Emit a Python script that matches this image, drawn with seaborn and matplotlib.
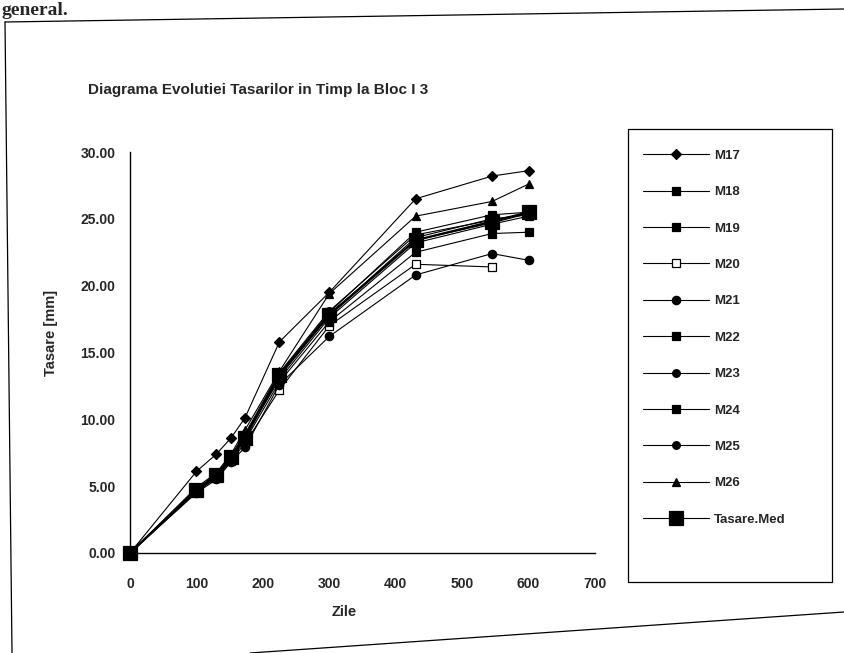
import numpy as np
import pandas as pd
import matplotlib
matplotlib.use("Agg")
import matplotlib.pyplot as plt
from matplotlib.lines import Line2D
import seaborn as sns

# Days of measurement
zile = [0, 100, 130, 152, 173, 225, 300, 430, 545, 600]

# Settlement [mm] per benchmark
m17 = [0, 6.1, 7.4, 8.6, 10.1, 15.8, 19.5, 26.5, 28.2, 28.6]
m18 = [0, 4.7, 5.9, 7.2, 8.8, 13.4, 18.0, 24.0, 25.3, 25.5]
m19 = [0, 4.6, 5.7, 7.0, 8.6, 13.2, 17.8, 23.6, 25.0, 25.3]
m20 = [0, 4.6, 5.6, 6.9, 8.2, 12.2, 17.0, 21.6, 21.4]
m21 = [0, 4.5, 5.5, 6.8, 7.9, 12.6, 16.2, 20.8, 22.4, 21.9]
m22 = [0, 4.7, 5.8, 7.1, 8.7, 13.0, 17.6, 23.2, 24.6, 25.2]
m23 = [0, 4.8, 5.9, 7.3, 8.9, 13.5, 18.1, 23.8, 24.9, 25.4]
m24 = [0, 4.6, 5.7, 7.0, 8.4, 12.8, 17.3, 22.5, 23.9, 24.0]
m25 = [0, 4.7, 5.8, 7.2, 8.6, 13.3, 17.9, 23.4, 24.7, 25.4]
m26 = [0, 4.9, 6.0, 7.4, 9.2, 13.6, 19.4, 25.2, 26.3, 27.6]
tasare_med = [0, 4.7, 5.8, 7.2, 8.6, 13.3, 17.8, 23.4, 24.8, 25.5]

serii = ["M17", "M18", "M19", "M20", "M21", "M22", "M23", "M24", "M25", "M26", "Tasare.Med"]
valori = [m17, m18, m19, m20, m21, m22, m23, m24, m25, m26, tasare_med]

x_ticks = [0, 100, 200, 300, 400, 500, 600, 700]
y_ticks = [0, 5, 10, 15, 20, 25, 30]

rows = []
for nume, vals in zip(serii, valori):
    for z, v in zip(zile, vals):
        rows.append({"Zile": z, "Tasare": v, "Serie": nume})
df = pd.DataFrame(rows)

sns.set_style("white")
plt.rcParams["font.family"] = ["Liberation Sans", "DejaVu Sans"]
plt.rcParams["font.weight"] = "bold"

fig = plt.figure(figsize=(8.44, 6.53), dpi=100)
W, H = 844, 653
ax = fig.add_axes([130 / W, 1 - 553 / H, 465 / W, 401 / H])

stiluri = {
    "M17": dict(marker="D", ms=5, mfc="black"),
    "M18": dict(marker="s", ms=5.5, mfc="black"),
    "M19": dict(marker="s", ms=5.5, mfc="black"),
    "M20": dict(marker="s", ms=6, mfc="white"),
    "M21": dict(marker="o", ms=6, mfc="black"),
    "M22": dict(marker="s", ms=5.5, mfc="black"),
    "M23": dict(marker="o", ms=5.5, mfc="black"),
    "M24": dict(marker="s", ms=5.5, mfc="black"),
    "M25": dict(marker="o", ms=5.5, mfc="black"),
    "M26": dict(marker="^", ms=6, mfc="black"),
    "Tasare.Med": dict(marker="s", ms=10, mfc="black"),
}

handles = []
for nume in serii:
    st = stiluri[nume]
    lw = 1.6 if nume == "Tasare.Med" else 0.8
    sub = df[df["Serie"] == nume]
    sns.lineplot(data=sub, x="Zile", y="Tasare", ax=ax, color="black",
                 linewidth=lw, marker=st["marker"], markersize=st["ms"],
                 markerfacecolor=st["mfc"], markeredgecolor="black",
                 markeredgewidth=0.9, clip_on=False, legend=False,
                 errorbar=None, sort=False)
    handles.append(Line2D([0], [0], color="black", linewidth=0.8,
                          marker=st["marker"], markersize=st["ms"],
                          markerfacecolor=st["mfc"], markeredgecolor="black",
                          markeredgewidth=0.9, label=nume))

ax.set_xlim(0, 700)
ax.set_ylim(0, 30)
ax.set_xticks(x_ticks)
ax.set_yticks(y_ticks)
ax.set_xticklabels([str(t) for t in x_ticks], fontsize=10, fontweight="bold")
ax.set_yticklabels([f"{t:.2f}" for t in y_ticks], fontsize=10, fontweight="bold")
ax.tick_params(axis="both", direction="inout", length=9, width=0.9, color="black")
ax.tick_params(axis="x", pad=13)
ax.tick_params(axis="y", pad=6)
ax.spines["top"].set_visible(False)
ax.spines["right"].set_visible(False)
for s in ("left", "bottom"):
    ax.spines[s].set_color("black")
    ax.spines[s].set_linewidth(1.0)
ax.set_xlabel("Zile", fontsize=10.5, fontweight="bold")
ax.xaxis.set_label_coords(0.46, -0.13)
ax.set_ylabel("Tasare [mm]", fontsize=10.5, fontweight="bold")
ax.yaxis.set_label_coords(-0.155, 0.55)

fig.text(88 / W, 1 - 90 / H, "Diagrama Evolutiei Tasarilor in Timp la Bloc I 3",
         fontsize=11, fontweight="bold", ha="left", va="center")

leg = fig.legend(handles=handles, loc="upper left",
                 bbox_to_anchor=(636 / W, 1 - 143 / H), frameon=False,
                 prop={"size": 9.5, "weight": "bold"}, handlelength=5.0,
                 handletextpad=0.4, labelspacing=1.83, borderpad=0)

# Legend frame
fig.add_artist(plt.Rectangle((628 / W, 1 - 582 / H), 204 / W, 453 / H,
                             transform=fig.transFigure, fill=False,
                             edgecolor="black", linewidth=0.9))

# Page frame around the chart
fig.add_artist(Line2D([5 / W, 1.0], [1 - 22 / H, 1 - 9 / H], transform=fig.transFigure,
                      color="black", linewidth=0.9))
fig.add_artist(Line2D([5 / W, 12 / W], [1 - 22 / H, 0.0], transform=fig.transFigure,
                      color="black", linewidth=0.9))
fig.add_artist(Line2D([250 / W, 1.0], [0.0, 1 - 612 / H], transform=fig.transFigure,
                      color="black", linewidth=0.9))

fig.text(2 / W, 1 - 2 / H, "general.", fontsize=14, family=["Liberation Serif", "DejaVu Serif"],
         fontweight="bold", ha="left", va="top")

fig.savefig("out.png", dpi=100)
